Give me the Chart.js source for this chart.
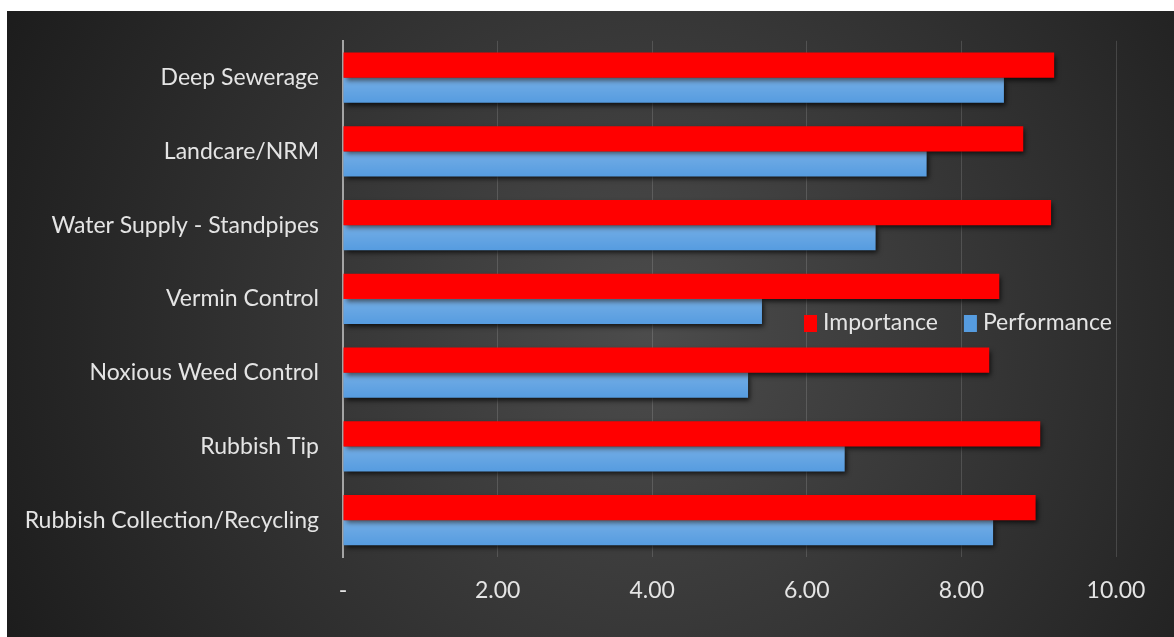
<!DOCTYPE html>
<html>
<head>
<meta charset="utf-8">
<script src="https://cdn.jsdelivr.net/npm/chart.js@4/dist/chart.umd.min.js"></script>
<style>
  body { margin: 0; background: #fff; }
  #wrap { position: absolute; left: 7px; top: 11px; width: 1167px; height: 626px; }
</style>
</head>
<body>
<div id="wrap"><canvas id="chart"></canvas></div>
<script>
const categories = [
  "Deep Sewerage",
  "Landcare/NRM",
  "Water Supply - Standpipes",
  "Vermin Control",
  "Noxious Weed Control",
  "Rubbish Tip",
  "Rubbish Collection/Recycling"
];
const importance = [9.20, 8.80, 9.16, 8.49, 8.36, 9.02, 8.96];
const performance = [8.55, 7.55, 6.89, 5.42, 5.24, 6.49, 8.41];
const tickLabels = ["-", "2.00", "4.00", "6.00", "8.00", "10.00"];

const FONT = "Lato";
const TEXT = "#e4e4e4";

// dark radial background like the Excel chart style
const backgroundPlugin = {
  id: "bg",
  beforeDraw(chart) {
    const { ctx, width, height } = chart;
    ctx.save();
    const g = ctx.createRadialGradient(640, 320, 0, 640, 320, 720);
    g.addColorStop(0, "#4c4c4c");
    g.addColorStop(1, "#1c1c1c");
    ctx.fillStyle = g;
    ctx.fillRect(0, 0, width, height);
    ctx.restore();
  }
};

// drop shadow under the bars
const shadowPlugin = {
  id: "barShadow",
  beforeDatasetsDraw(chart) {
    const ctx = chart.ctx;
    ctx.save();
    ctx.shadowColor = "rgba(0,0,0,0.75)";
    ctx.shadowBlur = 5;
    ctx.shadowOffsetX = 2;
    ctx.shadowOffsetY = 3;
  },
  afterDatasetsDraw(chart) {
    const ctx = chart.ctx;
    ctx.restore();
    // light sheen on the top of the blue bars
    const meta = chart.getDatasetMeta(1);
    ctx.save();
    meta.data.forEach((bar) => {
      const top = bar.y - bar.height / 2;
      const g = ctx.createLinearGradient(0, top, 0, top + bar.height);
      g.addColorStop(0, "rgba(255,255,255,0.18)");
      g.addColorStop(1, "rgba(255,255,255,0)");
      ctx.fillStyle = g;
      ctx.fillRect(bar.base, top, bar.x - bar.base, bar.height);
    });
    ctx.restore();
  }
};

// legend sitting inside the plot, middle right
const legendPlugin = {
  id: "insideLegend",
  afterDraw(chart) {
    const ctx = chart.ctx;
    const items = chart.data.datasets;
    ctx.save();
    ctx.font = "23px " + FONT;
    ctx.textBaseline = "middle";
    let x = 797;
    const y = 312;
    items.forEach((ds) => {
      ctx.fillStyle = ds.backgroundColor;
      ctx.fillRect(x, y - 8, 13, 17);
      ctx.fillStyle = TEXT;
      ctx.fillText(ds.label, x + 19, y);
      x += 19 + ctx.measureText(ds.label).width + 26;
    });
    ctx.restore();
  }
};

new Chart(document.getElementById("chart"), {
  type: "bar",
  data: {
    labels: categories,
    datasets: [
      { label: "Importance", data: importance, backgroundColor: "#ff0000" },
      { label: "Performance", data: performance, backgroundColor: "#569ce0" }
    ]
  },
  options: {
    indexAxis: "y",
    responsive: true,
    maintainAspectRatio: false,
    animation: false,
    barPercentage: 1,
    categoryPercentage: 0.68,
    layout: { padding: { top: 20, right: 58, left: 0, bottom: 0 } },
    scales: {
      x: {
        min: 0,
        max: 10,
        ticks: {
          stepSize: 2,
          color: TEXT,
          font: { family: FONT, size: 23 },
          padding: 20,
          callback: (v, i) => tickLabels[i]
        },
        grid: {
          color: (c) => (c.tick && c.tick.value === 0 ? "rgba(0,0,0,0)" : "rgba(255,255,255,0.14)"),
          drawTicks: false
        },
        border: { display: false },
        afterFit: (s) => { s.height = 80; }
      },
      y: {
        ticks: {
          color: TEXT,
          font: { family: FONT, size: 23 },
          padding: 16
        },
        grid: { display: false },
        border: { color: "#a4a4a4", width: 2 },
        afterFit: (s) => { s.width = 336; }
      }
    },
    plugins: {
      legend: { display: false },
      tooltip: { enabled: false }
    }
  },
  plugins: [backgroundPlugin, shadowPlugin, legendPlugin]
});
</script>
</body>
</html>
